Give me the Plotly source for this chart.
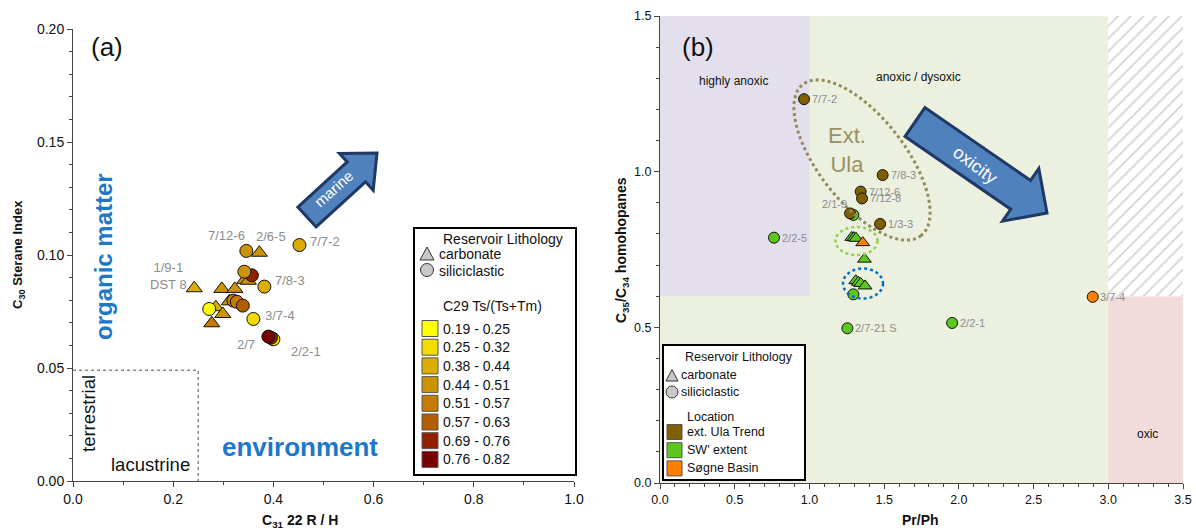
import math
import plotly.graph_objects as go

W, H = 1196, 531
FONT = "Arial, Liberation Sans, sans-serif"

# ---------------- Panel (a) data ----------------
ts_classes = ["0.19 - 0.25", "0.25 - 0.32", "0.38 - 0.44", "0.44 - 0.51",
              "0.51 - 0.57", "0.57 - 0.63", "0.69 - 0.76", "0.76 - 0.82"]
ts_colors = ["#ffff00", "#f2dc00", "#d9ae00", "#cc9400",
             "#c47c00", "#b35c00", "#922000", "#7a0000"]

a_carb_x = [0.372, 0.343, 0.350, 0.242, 0.297, 0.323, 0.312, 0.285, 0.299, 0.277]
a_carb_y = [0.101, 0.089, 0.0886, 0.0853, 0.085, 0.085, 0.0795, 0.0769, 0.0739, 0.0698]
a_carb_cls = [3, 3, 3, 2, 3, 3, 3, 2, 3, 4]

a_sili_x = [0.346, 0.452, 0.357, 0.342, 0.382, 0.320, 0.327, 0.339, 0.272, 0.360, 0.400, 0.395, 0.390]
a_sili_y = [0.1018, 0.1044, 0.091, 0.0926, 0.086, 0.0798, 0.0793, 0.0776, 0.0761, 0.0717, 0.0627, 0.0634, 0.0639]
a_sili_cls = [3, 2, 6, 3, 2, 4, 4, 5, 0, 1, 1, 6, 7]

a_lab_text = ["7/12-6", "2/6-5", "7/7-2", "1/9-1<br>DST 8", "7/8-3", "3/7-4", "2/7", "2/2-1"]
a_lab_x = [0.346, 0.372, 0.452, 0.242, 0.382, 0.360, 0.390, 0.400]
a_lab_y = [0.1018, 0.101, 0.1044, 0.0853, 0.086, 0.0717, 0.0639, 0.0627]

# ---------------- Panel (b) data ----------------
loc_names = ["ext. Ula Trend", "SW' extent", "Søgne Basin"]
loc_colors = ["#7f6000", "#5cc81e", "#ff8000"]

b_sw_circ_x = [1.294, 0.763, 1.294, 1.254, 1.955]
b_sw_circ_y = [0.861, 0.788, 0.606, 0.497, 0.514]
b_ula_circ_x = [0.964, 1.490, 1.343, 1.352, 1.272, 1.473]
b_ula_circ_y = [1.233, 0.989, 0.936, 0.914, 0.866, 0.832]
b_sw_tri_x = [1.283, 1.298, 1.312, 1.368, 1.310, 1.327, 1.343, 1.372]
b_sw_tri_y = [0.789, 0.788, 0.786, 0.719, 0.650, 0.645, 0.641, 0.633]
b_sg_tri_x = [1.357]
b_sg_tri_y = [0.772]
b_sg_circ_x = [2.896]
b_sg_circ_y = [0.598]

b_lab_text = ["7/7-2", "7/8-3", "7/12-6", "7/12-8", "2/1-9", "1/3-3", "2/2-5", "2/7-21 S", "2/2-1", "3/7-4"]
b_lab_x = [0.964, 1.490, 1.343, 1.352, 1.272, 1.473, 0.763, 1.254, 1.955, 2.896]
b_lab_y = [1.233, 0.989, 0.936, 0.914, 0.866, 0.832, 0.788, 0.497, 0.514, 0.598]

# redox regions (Pr/Ph, C35/C34)
anoxic_limit_x = 1.0
oxic_limit_x = 3.0
homohop_limit_y = 0.6

# ---------------- layout geometry (pixels) ----------------
XA, YA = (73, 574), (29, 481)
XB, YB = (660, 1183), (16, 483)


def px(x):
    return x / W


def py(y):
    return 1 - y / H


fig = go.Figure()

# ---- panel (a) traces ----
fig.add_trace(go.Scatter(
    x=a_carb_x, y=a_carb_y, mode="markers", xaxis="x", yaxis="y",
    marker=dict(symbol="triangle-up", size=14, color=[ts_colors[c] for c in a_carb_cls],
                line=dict(color="#111", width=1)),
    showlegend=False, hoverinfo="skip"))
fig.add_trace(go.Scatter(
    x=a_sili_x, y=a_sili_y, mode="markers", xaxis="x", yaxis="y",
    marker=dict(symbol="circle", size=13, color=[ts_colors[c] for c in a_sili_cls],
                line=dict(color="#111", width=1)),
    showlegend=False, hoverinfo="skip"))

# ---- panel (b) traces ----
fig.add_trace(go.Scatter(
    x=[oxic_limit_x, 3.5, 3.5, oxic_limit_x, oxic_limit_x],
    y=[homohop_limit_y, homohop_limit_y, 1.5, 1.5, homohop_limit_y],
    mode="none", fill="toself", fillcolor="white", xaxis="x2", yaxis="y2",
    fillpattern=dict(shape="/", fgcolor="#a8a8a8", bgcolor="white", size=9, solidity=0.2),
    showlegend=False, hoverinfo="skip"))
fig.add_trace(go.Scatter(
    x=b_sw_circ_x, y=b_sw_circ_y, mode="markers", xaxis="x2", yaxis="y2",
    marker=dict(symbol="circle", size=11, color=loc_colors[1], line=dict(color="#111", width=1)),
    showlegend=False, hoverinfo="skip"))
fig.add_trace(go.Scatter(
    x=b_ula_circ_x, y=b_ula_circ_y, mode="markers", xaxis="x2", yaxis="y2",
    marker=dict(symbol="circle", size=11, color=loc_colors[0], line=dict(color="#111", width=1)),
    showlegend=False, hoverinfo="skip"))
fig.add_trace(go.Scatter(
    x=b_sw_tri_x, y=b_sw_tri_y, mode="markers", xaxis="x2", yaxis="y2",
    marker=dict(symbol="triangle-up", size=12, color=loc_colors[1], line=dict(color="#111", width=1)),
    showlegend=False, hoverinfo="skip"))
fig.add_trace(go.Scatter(
    x=b_sg_tri_x, y=b_sg_tri_y, mode="markers", xaxis="x2", yaxis="y2",
    marker=dict(symbol="triangle-up", size=12, color=loc_colors[2], line=dict(color="#111", width=1)),
    showlegend=False, hoverinfo="skip"))
fig.add_trace(go.Scatter(
    x=b_sg_circ_x, y=b_sg_circ_y, mode="markers", xaxis="x2", yaxis="y2",
    marker=dict(symbol="circle", size=11, color=loc_colors[2], line=dict(color="#111", width=1)),
    showlegend=False, hoverinfo="skip"))

shapes = []
ann = []


def text(x, y, s, size=13, color="#111", xanchor="center", yanchor="middle", angle=0, bold=False):
    if bold:
        s = "<b>" + s + "</b>"
    ann.append(dict(x=px(x), y=py(y), xref="paper", yref="paper", text=s, showarrow=False,
                    xanchor=xanchor, yanchor=yanchor, textangle=angle,
                    font=dict(family=FONT, size=size, color=color)))


def poly_path(pts):
    return "M " + " L ".join(f"{px(x):.5f},{py(y):.5f}" for x, y in pts) + " Z"


def block_arrow(tail, tip, body_w, head_w, head_len):
    (tx, ty), (hx, hy) = tail, tip
    dx, dy = hx - tx, hy - ty
    L = math.hypot(dx, dy)
    ux, uy = dx / L, dy / L
    nx, ny = -uy, ux
    bx, by = hx - ux * head_len, hy - uy * head_len
    pts = [(tx + nx * body_w / 2, ty + ny * body_w / 2),
           (bx + nx * body_w / 2, by + ny * body_w / 2),
           (bx + nx * head_w / 2, by + ny * head_w / 2),
           (hx, hy),
           (bx - nx * head_w / 2, by - ny * head_w / 2),
           (bx - nx * body_w / 2, by - ny * body_w / 2),
           (tx - nx * body_w / 2, ty - ny * body_w / 2)]
    return poly_path(pts)


def ellipse_path(cx, cy, a, b, ang_deg, n=72):
    t = math.radians(ang_deg)
    pts = []
    for i in range(n):
        s = 2 * math.pi * i / n
        ex, ey = a * math.cos(s), b * math.sin(s)
        pts.append((cx + ex * math.cos(t) - ey * math.sin(t), cy + ex * math.sin(t) + ey * math.cos(t)))
    return poly_path(pts)


# ---- panel (b) background regions ----
shapes.append(dict(type="rect", xref="x2", yref="y2", x0=0, x1=oxic_limit_x, y0=0, y1=1.5,
                   fillcolor="#ebf0df", line=dict(width=0), layer="below"))
shapes.append(dict(type="rect", xref="x2", yref="y2", x0=0, x1=anoxic_limit_x, y0=homohop_limit_y, y1=1.5,
                   fillcolor="#e4dfec", line=dict(width=0), layer="below"))
shapes.append(dict(type="rect", xref="x2", yref="y2", x0=oxic_limit_x, x1=3.5, y0=0, y1=homohop_limit_y,
                   fillcolor="#f1dbdb", line=dict(width=0), layer="below"))

# ---- panel (a) terrestrial/lacustrine dotted box ----
shapes.append(dict(type="path", xref="x", yref="y", path="M 0,0.049 L 0.25,0.049 L 0.25,0",
                   line=dict(color="#8a8a8a", width=1.5, dash="dot")))

# ---- arrows ----
shapes.append(dict(type="path", xref="paper", yref="paper",
                   path=block_arrow((307, 217), (377, 153), 27, 50, 28),
                   fillcolor="#4f81bd", line=dict(color="#1f3864", width=3)))
shapes.append(dict(type="path", xref="paper", yref="paper",
                   path=block_arrow((915, 122), (1047, 213), 35, 64, 32),
                   fillcolor="#4f81bd", line=dict(color="#1f3864", width=3)))
text(334, 189, "marine", size=15, color="white", angle=-42)
text(975, 165, "oxicity", size=18, color="white", angle=37)

# ---- ellipses ----
shapes.append(dict(type="path", xref="paper", yref="paper", path=ellipse_path(862, 160, 96, 43, 52),
                   line=dict(color="#948a5c", width=3, dash="dot")))
shapes.append(dict(type="path", xref="paper", yref="paper", path=ellipse_path(856.5, 241, 21, 14, 0),
                   line=dict(color="#92d050", width=2.5, dash="dot")))
shapes.append(dict(type="path", xref="paper", yref="paper", path=ellipse_path(863, 283.5, 20, 15, 0),
                   line=dict(color="#0070c0", width=2.5, dash="dot")))

# ---- point labels ----
a_lab_shift = [(-20, 15, "center"), (12, 16, "center"), (9, 4, "left"), (-26, 12, "center"),
               (9, 6, "left"), (10, 3, "left"), (-11, -8, "right"), (16, -12, "left")]
for t, x, y, (xs, ys, xa) in zip(a_lab_text, a_lab_x, a_lab_y, a_lab_shift):
    ann.append(dict(x=x, y=y, xref="x", yref="y", text=t, showarrow=False, xshift=xs, yshift=ys,
                    xanchor=xa, yanchor="middle", font=dict(family=FONT, size=13, color="#8c8c8c")))

b_lab_shift = [(6, 0, "left"), (6, 0, "left"), (6, 0, "left"), (6, 0, "left"), (-1, 9, "right"),
               (6, 0, "left"), (6, 0, "left"), (6, 0, "left"), (6, 0, "left"), (5, 0, "left")]
for t, x, y, (xs, ys, xa) in zip(b_lab_text, b_lab_x, b_lab_y, b_lab_shift):
    ann.append(dict(x=x, y=y, xref="x2", yref="y2", text=t, showarrow=False, xshift=xs, yshift=ys,
                    xanchor=xa, yanchor="middle", font=dict(family=FONT, size=11, color="#8c8c8c")))

# ---- panel texts ----
text(107, 47, "(a)", size=26)
text(698, 47, "(b)", size=26)
text(104, 257, "organic matter", size=24, color="#1e78c8", angle=-90, bold=True)
text(300, 447, "environment", size=26, color="#1e78c8", bold=True)
text(88, 414, "terrestrial", size=18.5, angle=-90)
text(150, 464, "lacustrine", size=18.5)
text(733, 81, "highly anoxic", size=12)
text(918, 77, "anoxic / dysoxic", size=12)
text(1147, 434, "oxic", size=12)
text(847, 150, "Ext.<br>Ula", size=22, color="#9a9062")

# axis titles
text(300, 521, "C<sub>31</sub> 22 R / H", size=14, bold=True)
text(18, 255, "C<sub>30</sub> Sterane Index", size=13, angle=-90, bold=True)
text(920, 520, "Pr/Ph", size=14, bold=True)
text(622, 250, "C<sub>35</sub>/C<sub>34</sub> homohopanes", size=14, angle=-90, bold=True)

# ---- legend (a) ----
shapes.append(dict(type="rect", xref="paper", yref="paper", x0=px(414), x1=px(576), y0=py(228), y1=py(475),
                   fillcolor="white", line=dict(color="black", width=2)))
text(441, 239, "Reservoir Lithology", size=14, xanchor="left")
shapes.append(dict(type="path", xref="paper", yref="paper",
                   path=poly_path([(420, 260), (434, 260), (427, 247)]),
                   fillcolor="#c8c8c8", line=dict(color="#333", width=1)))
text(437, 254, "carbonate", size=14, xanchor="left")
shapes.append(dict(type="circle", xref="paper", yref="paper", x0=px(420.5), x1=px(433.5), y0=py(276.5), y1=py(263.5),
                   fillcolor="#c8c8c8", line=dict(color="#333", width=1)))
text(437, 271, "siliciclastic", size=14, xanchor="left")
text(441, 306, "C29 Ts/(Ts+Tm)", size=14, xanchor="left")
for i, (lab, col) in enumerate(zip(ts_classes, ts_colors)):
    yc = 328.5 + i * 18.7
    shapes.append(dict(type="rect", xref="paper", yref="paper", x0=px(422), x1=px(438), y0=py(yc + 8), y1=py(yc - 8),
                       fillcolor=col, line=dict(color="#555", width=1)))
    text(441, yc, lab, size=14, xanchor="left")

# ---- legend (b) ----
shapes.append(dict(type="rect", xref="paper", yref="paper", x0=px(663), x1=px(805), y0=py(345), y1=py(480),
                   fillcolor="white", line=dict(color="black", width=2)))
text(683, 357, "Reservoir Lithology", size=12.5, xanchor="left")
shapes.append(dict(type="path", xref="paper", yref="paper",
                   path=poly_path([(666, 381), (678, 381), (672, 369.5)]),
                   fillcolor="#c8c8c8", line=dict(color="#333", width=1)))
text(679, 375, "carbonate", size=12.5, xanchor="left")
shapes.append(dict(type="circle", xref="paper", yref="paper", x0=px(666), x1=px(678), y0=py(398), y1=py(386),
                   fillcolor="#c8c8c8", line=dict(color="#333", width=1)))
text(679, 392, "siliciclastic", size=12.5, xanchor="left")
text(685, 417, "Location", size=12.5, xanchor="left")
for i, (lab, col) in enumerate(zip(loc_names, loc_colors)):
    yc = 432 + i * 18.2
    shapes.append(dict(type="rect", xref="paper", yref="paper", x0=px(667), x1=px(682), y0=py(yc + 7.5), y1=py(yc - 7.5),
                       fillcolor=col, line=dict(color="#555", width=1)))
    text(685, yc, lab, size=12.5, xanchor="left")

axis_common = dict(showgrid=False, zeroline=False, showline=True, linecolor="#444", linewidth=1,
                   ticks="outside", ticklen=5, tickcolor="#444", mirror=False, automargin=False)

fig.update_layout(
    width=W, height=H, margin=dict(l=0, r=0, t=0, b=0, autoexpand=False),
    paper_bgcolor="white", plot_bgcolor="rgba(0,0,0,0)",
    font=dict(family=FONT, color="#111"),
    showlegend=False,
    xaxis=dict(domain=[px(XA[0]), px(XA[1])], range=[0, 1], dtick=0.2, tick0=0, tickformat=".1f",
               tickfont=dict(size=14), minor=dict(dtick=0.1, ticks="outside", ticklen=3, tickcolor="#444"),
               anchor="y", **axis_common),
    yaxis=dict(domain=[py(YA[1]), py(YA[0])], range=[0, 0.2], dtick=0.05, tick0=0, tickformat=".2f",
               tickfont=dict(size=14), minor=dict(dtick=0.01, ticks="outside", ticklen=3, tickcolor="#444"),
               anchor="x", **axis_common),
    xaxis2=dict(domain=[px(XB[0]), px(XB[1])], range=[0, 3.5], dtick=0.5, tick0=0, tickformat=".1f",
                tickfont=dict(size=12.5), minor=dict(dtick=0.1, ticks="outside", ticklen=3, tickcolor="#444"),
                anchor="y2", **axis_common),
    yaxis2=dict(domain=[py(YB[1]), py(YB[0])], range=[0, 1.5], dtick=0.5, tick0=0, tickformat=".1f",
                tickfont=dict(size=12.5), minor=dict(dtick=0.1, ticks="outside", ticklen=3, tickcolor="#444"),
                anchor="x2", **axis_common),
    shapes=shapes,
    annotations=ann,
)

fig.write_html("out.html")
